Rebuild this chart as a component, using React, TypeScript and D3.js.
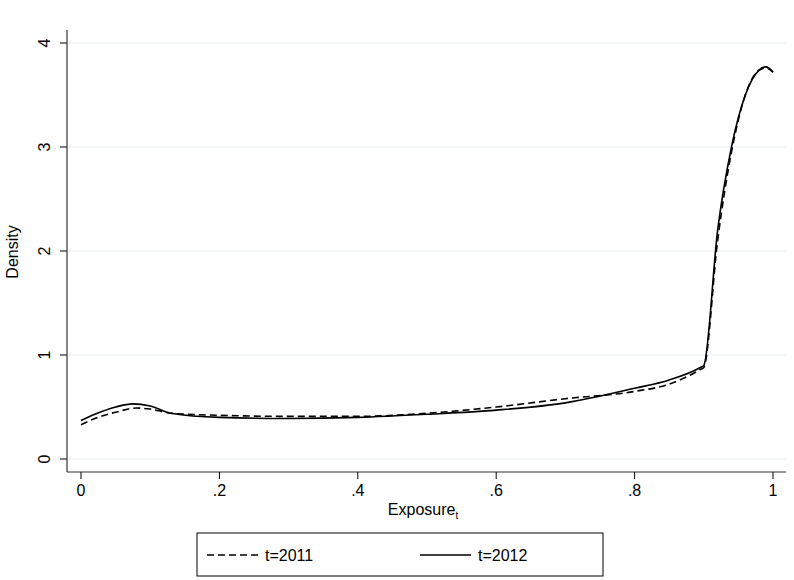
import React from 'react';
import * as d3 from 'd3';

const xTicks = [0, 0.2, 0.4, 0.6, 0.8, 1];
const xTickLabels = ['0', '.2', '.4', '.6', '.8', '1'];
const yTicks = [0, 1, 2, 3, 4];

const exposure = [0, 0.02, 0.05, 0.075, 0.1, 0.13, 0.2, 0.3, 0.4, 0.5, 0.6, 0.7, 0.8, 0.85, 0.895, 0.9, 0.92, 0.94, 0.96, 0.98, 0.99, 1];
const density2012 = [0.37, 0.43, 0.5, 0.53, 0.51, 0.44, 0.4, 0.39, 0.4, 0.43, 0.47, 0.54, 0.68, 0.76, 0.88, 0.9, 2.2, 3.0, 3.5, 3.74, 3.77, 3.72];
const exposure2011 = [0, 0.02, 0.05, 0.08, 0.1, 0.13, 0.2, 0.3, 0.4, 0.5, 0.6, 0.7, 0.8, 0.85, 0.895, 0.9, 0.92, 0.94, 0.96, 0.98, 0.99, 1];
const density2011 = [0.33, 0.39, 0.45, 0.49, 0.48, 0.44, 0.42, 0.41, 0.41, 0.44, 0.5, 0.58, 0.65, 0.72, 0.86, 0.88, 2.1, 2.95, 3.5, 3.74, 3.76, 3.72];

const font = 'Liberation Sans, Arial, sans-serif';

export default function App() {
  const x = d3.scaleLinear().domain([0, 1]).range([81, 773]);
  const y = d3.scaleLinear().domain([0, 4]).range([459, 43]);
  const line = d3.line<[number, number]>().x(d => x(d[0])).y(d => y(d[1])).curve(d3.curveMonotoneX);
  const d12 = line(exposure.map((e, i) => [e, density2012[i]]))!;
  const d11 = line(exposure2011.map((e, i) => [e, density2011[i]]))!;

  return (
    <svg width={794} height={580} style={{ position: 'absolute', left: 0, top: 0, background: '#fff' }} fontFamily={font}>
      {yTicks.map(t => (
        <g key={t}>
          <line x1={67} x2={786} y1={y(t)} y2={y(t)} stroke="#eaf0f3" strokeWidth={1.2} />
          <line x1={60} x2={67} y1={y(t)} y2={y(t)} stroke="#000" />
          <text x={50} y={y(t)} transform={`rotate(-90 50 ${y(t)})`} textAnchor="middle" fontSize={16}>{t}</text>
        </g>
      ))}
      <line x1={67} x2={67} y1={30} y2={472} stroke="#333" strokeWidth={1.2} />
      <line x1={67} x2={786} y1={472} y2={472} stroke="#333" strokeWidth={1.2} />
      {xTicks.map((t, i) => (
        <g key={t}>
          <line x1={x(t)} x2={x(t)} y1={472} y2={479} stroke="#000" />
          <text x={x(t)} y={496} textAnchor="middle" fontSize={16}>{xTickLabels[i]}</text>
        </g>
      ))}
      <text x={18} y={252} transform="rotate(-90 18 252)" textAnchor="middle" fontSize={16}>Density</text>
      <text x={423} y={515} textAnchor="middle" fontSize={16}>Exposure<tspan fontSize={10} dy={4}>t</tspan></text>
      <path d={d11} fill="none" stroke="#000" strokeWidth={1.6} strokeDasharray="7 4" />
      <path d={d12} fill="none" stroke="#000" strokeWidth={1.6} />
      <rect x={197} y={533} width={406} height={43} fill="#fff" stroke="#000" />
      <line x1={207} x2={258} y1={555} y2={555} stroke="#000" strokeWidth={1.4} strokeDasharray="7 4" />
      <text x={265} y={561} fontSize={16}>t=2011</text>
      <line x1={420} x2={471} y1={555} y2={555} stroke="#000" strokeWidth={1.4} />
      <text x={478} y={561} fontSize={16}>t=2012</text>
    </svg>
  );
}
